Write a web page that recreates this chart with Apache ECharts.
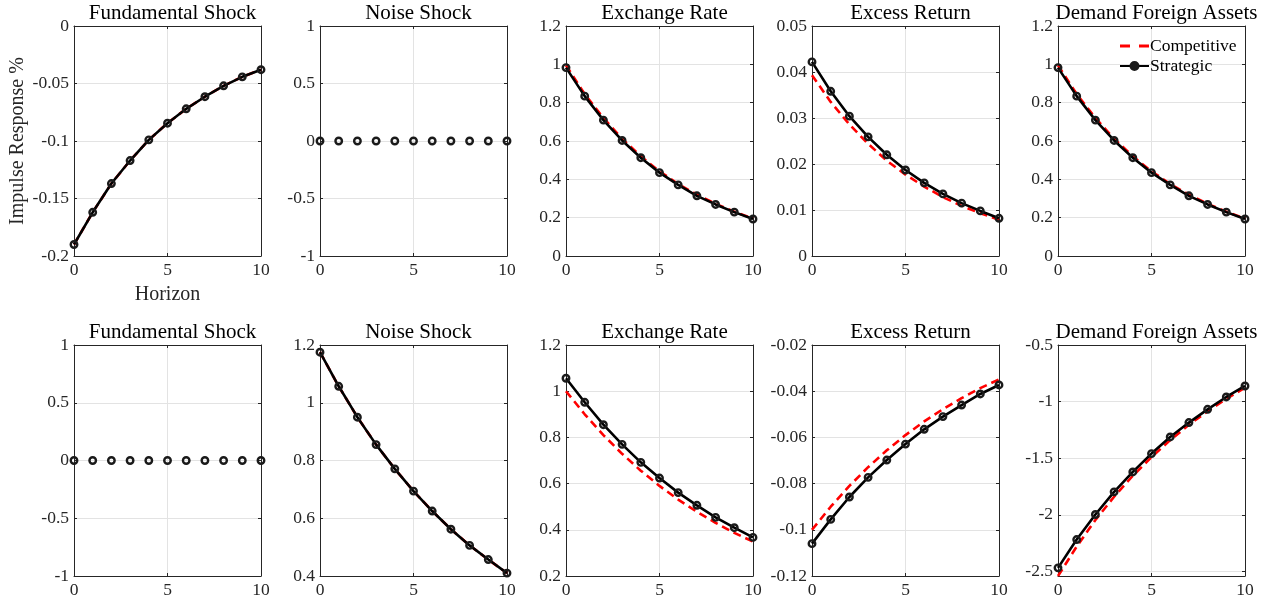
<!DOCTYPE html>
<html>
<head>
<meta charset="utf-8">
<script src="https://cdn.jsdelivr.net/npm/echarts@6/dist/echarts.min.js"></script>
<style>
  html, body { margin: 0; padding: 0; background: #ffffff; }
  #chart { width: 1270px; height: 604px; }
</style>
</head>
<body>
<div id="chart"></div>
<script>
// Horizon (periods after the shock)
const horizon = [0, 1, 2, 3, 4, 5, 6, 7, 8, 9, 10];

const panelTitles = ['Fundamental Shock', 'Noise Shock', 'Exchange Rate', 'Excess Return', 'Demand Foreign Assets'];
const seriesNames = ['Competitive', 'Strategic'];

// Row 1: responses to a fundamental shock
const fundFundCompetitive = [-0.190, -0.162, -0.137, -0.117, -0.099, -0.0845, -0.072, -0.0615, -0.052, -0.0442, -0.038];
const fundFundStrategic   = [-0.190, -0.162, -0.137, -0.117, -0.099, -0.0845, -0.072, -0.0615, -0.052, -0.0442, -0.038];
const fundNoiseStrategic  = [0, 0, 0, 0, 0, 0, 0, 0, 0, 0, 0];
const fundFxCompetitive   = [0.995, 0.845, 0.720, 0.612, 0.520, 0.442, 0.376, 0.320, 0.272, 0.231, 0.196];
const fundFxStrategic     = [0.983, 0.834, 0.709, 0.603, 0.513, 0.435, 0.371, 0.314, 0.269, 0.229, 0.193];
const fundErCompetitive   = [0.0393, 0.0335, 0.0286, 0.0244, 0.0207, 0.0177, 0.0151, 0.0128, 0.0109, 0.0093, 0.0079];
const fundErStrategic     = [0.0422, 0.0358, 0.0304, 0.0259, 0.0220, 0.0187, 0.0159, 0.0135, 0.0115, 0.0098, 0.0082];
const fundDfaCompetitive  = [0.995, 0.845, 0.720, 0.612, 0.520, 0.442, 0.376, 0.320, 0.272, 0.231, 0.196];
const fundDfaStrategic    = [0.983, 0.834, 0.709, 0.603, 0.513, 0.435, 0.371, 0.314, 0.269, 0.229, 0.193];

// Row 2: responses to a noise shock
const noiseFundStrategic    = [0, 0, 0, 0, 0, 0, 0, 0, 0, 0, 0];
const noiseNoiseCompetitive = [1.175, 1.057, 0.950, 0.855, 0.771, 0.694, 0.625, 0.562, 0.506, 0.457, 0.410];
const noiseNoiseStrategic   = [1.175, 1.057, 0.950, 0.855, 0.771, 0.694, 0.625, 0.562, 0.506, 0.457, 0.410];
const noiseFxCompetitive    = [1.000, 0.900, 0.810, 0.729, 0.656, 0.590, 0.531, 0.478, 0.430, 0.387, 0.349];
const noiseFxStrategic      = [1.056, 0.952, 0.855, 0.770, 0.692, 0.624, 0.561, 0.506, 0.454, 0.409, 0.367];
const noiseErCompetitive    = [-0.100, -0.090, -0.081, -0.0729, -0.0656, -0.059, -0.0531, -0.0478, -0.043, -0.0387, -0.0349];
const noiseErStrategic      = [-0.106, -0.0955, -0.0858, -0.0773, -0.0698, -0.0629, -0.0565, -0.051, -0.046, -0.0412, -0.0373];
const noiseDfaCompetitive   = [-2.54, -2.28, -2.045, -1.84, -1.655, -1.49, -1.34, -1.205, -1.085, -0.975, -0.877];
const noiseDfaStrategic     = [-2.468, -2.218, -1.997, -1.797, -1.621, -1.459, -1.312, -1.185, -1.068, -0.959, -0.862];

// Y-axis limits and tick spacing for each panel (row by row)
const yMin  = [[-0.2, -1, 0, 0, 0], [-1, 0.4, 0.2, -0.12, -2.54]];
const yMax  = [[0, 1, 1.2, 0.05, 1.2], [1, 1.2, 1.2, -0.02, -0.5]];
const yStep = [[0.05, 0.5, 0.2, 0.01, 0.2], [0.5, 0.2, 0.2, 0.02, 0.5]];
const xTicks = [0, 5, 10];

// Curves per panel: [competitive, strategic]; null means the curve is not drawn
const panelData = [
  [[fundFundCompetitive, fundFundStrategic], [null, fundNoiseStrategic], [fundFxCompetitive, fundFxStrategic],
   [fundErCompetitive, fundErStrategic], [fundDfaCompetitive, fundDfaStrategic]],
  [[null, noiseFundStrategic], [noiseNoiseCompetitive, noiseNoiseStrategic], [noiseFxCompetitive, noiseFxStrategic],
   [noiseErCompetitive, noiseErStrategic], [noiseDfaCompetitive, noiseDfaStrategic]]
];
// Panels where the response is identically zero are drawn with markers only
const markersOnly = [[false, true, false, false, false], [true, false, false, false, false]];

const FONT = 'Liberation Serif';
const AXIS_COLOR = '#262626';
const GRID_COLOR = '#e3e3e3';

const colLeft = [74, 320, 566, 812, 1058];
const plotWidth = 187;
const rowTop = [26, 345];
const rowHeight = [230, 231];
const titleTop = [-2, 317];

const round6 = v => +(+v).toFixed(6);
function tickValues(min, max, step) {
  const out = [];
  const first = Math.ceil(round6(min / step)) * step;
  for (let v = first; v <= max + step * 1e-6; v += step) out.push(round6(v));
  return out;
}

const grids = [], xAxes = [], yAxes = [], titles = [], series = [];

for (let r = 0; r < 2; r++) {
  for (let c = 0; c < 5; c++) {
    const g = r * 5 + c;
    grids.push({ left: colLeft[c], top: rowTop[r], width: plotWidth, height: rowHeight[r], containLabel: false });
    titles.push({
      text: panelTitles[c], left: colLeft[c] + plotWidth / 2, top: titleTop[r], textAlign: 'center',
      textStyle: { fontFamily: FONT, fontSize: 21, fontWeight: 'normal', color: '#000' }
    });

    const yt = tickValues(yMin[r][c], yMax[r][c], yStep[r][c]);
    const stepAligned = Math.abs(round6(yMin[r][c] / yStep[r][c]) - Math.round(yMin[r][c] / yStep[r][c])) < 1e-6;

    const baseX = {
      type: 'value', gridIndex: g, min: 0, max: 10, interval: 5,
      axisLine: { show: true, onZero: false, lineStyle: { color: AXIS_COLOR, width: 1 } },
      axisTick: { show: true, inside: true, length: 3, lineStyle: { color: AXIS_COLOR }, customValues: xTicks },
      splitLine: { show: false }
    };
    xAxes.push(Object.assign({}, baseX, {
      position: 'bottom',
      axisLabel: { show: true, margin: 5, fontFamily: FONT, fontSize: 17.5, color: AXIS_COLOR, customValues: xTicks,
                   formatter: v => String(round6(v)) },
      splitLine: { show: true, lineStyle: { color: GRID_COLOR, width: 1 } },
      name: (g === 0 ? 'Horizon' : ''), nameLocation: 'middle', nameGap: 29,
      nameTextStyle: { fontFamily: FONT, fontSize: 20, color: AXIS_COLOR }
    }));
    xAxes.push(Object.assign({}, baseX, { position: 'top', axisLabel: { show: false } }));

    const baseY = {
      type: 'value', gridIndex: g, min: yMin[r][c], max: yMax[r][c],
      axisLine: { show: true, onZero: false, lineStyle: { color: AXIS_COLOR, width: 1 } },
      axisTick: { show: true, inside: true, length: 3, lineStyle: { color: AXIS_COLOR }, customValues: yt },
      splitLine: { show: false }
    };
    if (stepAligned) baseY.interval = yStep[r][c];
    yAxes.push(Object.assign({}, baseY, {
      position: 'left',
      axisLabel: { show: true, margin: 5, fontFamily: FONT, fontSize: 17.5, color: AXIS_COLOR, customValues: yt,
                   formatter: v => String(round6(v)) },
      splitLine: { show: true, lineStyle: { color: GRID_COLOR, width: 1 } },
      name: (g === 0 ? 'Impulse Response %' : ''), nameLocation: 'middle', nameGap: 46.5,
      nameTextStyle: { fontFamily: FONT, fontSize: 20, color: AXIS_COLOR }
    }));
    yAxes.push(Object.assign({}, baseY, { position: 'right', axisLabel: { show: false } }));

    const [comp, strat] = panelData[r][c];
    if (comp) {
      series.push({
        name: seriesNames[0], type: 'line', xAxisIndex: 2 * g, yAxisIndex: 2 * g,
        data: horizon.map((h, i) => [h, comp[i]]),
        symbol: 'none', z: 2,
        itemStyle: { color: '#ff0000' },
        lineStyle: { color: '#ff0000', width: 2.6, type: [8, 5] }
      });
    }
    series.push({
      name: seriesNames[1], type: 'line', xAxisIndex: 2 * g, yAxisIndex: 2 * g,
      data: horizon.map((h, i) => [h, strat[i]]),
      symbol: 'circle', symbolSize: 6.5, z: 3,
      itemStyle: { color: 'rgba(0,0,0,0)', borderColor: '#1a1a1a', borderWidth: 2.4 },
      lineStyle: { color: '#000000', width: markersOnly[r][c] ? 0 : 2.6, opacity: markersOnly[r][c] ? 0 : 1 }
    });
  }
}

const chart = echarts.init(document.getElementById('chart'), null, { renderer: 'canvas' });
chart.setOption({
  animation: false,
  backgroundColor: '#ffffff',
  title: titles,
  grid: grids,
  xAxis: xAxes,
  yAxis: yAxes,
  legend: {
    data: [
      { name: seriesNames[0], icon: 'path://M0,0h10v3h-10z M19,0h10v3h-10z', itemStyle: { color: '#ff0000' },
        itemHeight: 3 },
      { name: seriesNames[1], itemStyle: { color: '#1a1a1a' } }
    ],
    orient: 'vertical', left: 1114, top: 32, itemWidth: 29, itemHeight: 10, itemGap: 2,
    selectedMode: false,
    textStyle: { fontFamily: FONT, fontSize: 17.5, color: '#000', padding: [0, 0, 0, -4] }
  },
  series: series
});
</script>
</body>
</html>
